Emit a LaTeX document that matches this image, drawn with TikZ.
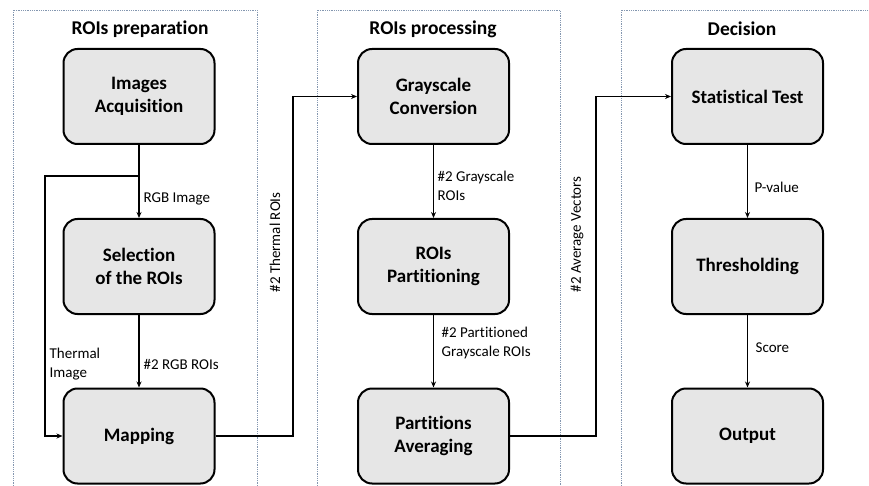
\documentclass[tikz,border=0pt]{standalone}
\usepackage{fontspec}
\setmainfont[Ligatures=NoCommon]{Carlito}
\usetikzlibrary{arrows.meta}
\definecolor{boxgray}{RGB}{230,230,230}
\definecolor{panelblue}{RGB}{132,151,176}
\tikzstyle{proc}=[shape=rectangle,
                  draw=black,
                  fill=boxgray,
                  rounded corners=14pt,
                  line width=2pt,
                  minimum width=151pt,
                  minimum height=95pt,
                  align=center,
                  font=\fontsize{19}{23}\selectfont\bfseries]
\tikzstyle{panel}=[draw=panelblue,
                   densely dotted,
                   line width=0.8pt]
\tikzstyle{ttl}=[font=\fontsize{19.5}{22}\selectfont\bfseries]
\tikzstyle{lbl}=[anchor=west,
                 inner sep=0pt,
                 align=left,
                 font=\fontsize{15}{18.5}\selectfont]

\begin{document}
\begin{tikzpicture}[x=1pt,y=-1pt,>={Stealth[length=6pt,width=5pt]},line width=1.3pt]
\useasboundingbox (0,0) rectangle (869,486);

% panels
\draw[panel] (13,486) -- (13,10) -- (257,10) -- (257,486);
\draw[panel] (317,486) -- (317,10) -- (560,10) -- (560,486);
\draw[panel] (621,486) -- (621,10) -- (875,10);

\node[ttl] (t1) at (140,29)   {ROIs preparation};
\node[ttl] (t2) at (433,29)   {ROIs processing};
\node[ttl] (t3) at (742,29)   {Decision};

% processing steps
\node[proc] (acq)  at (139,96.5)   {Images\\Acquisition};
\node[proc] (sel)  at (139,266.5)  {Selection\\of the ROIs};
\node[proc] (map)  at (139,436)    {Mapping};
\node[proc] (gray) at (433.5,96.5) {Grayscale\\Conversion};
\node[proc] (part) at (433.5,266.5){ROIs\\Partitioning};
\node[proc] (avg)  at (433.5,436)  {Partitions\\Averaging};
\node[proc] (stat) at (747.5,96.5) {Statistical Test};
\node[proc] (thr)  at (747.5,266.5){Thresholding};
\node[proc] (out)  at (747.5,436)  {Output};

% paths
\coordinate (br) at (139,176);
\draw[->] (acq) -- (sel);
\draw[->] (sel) -- (map);
\draw[->] (br) -- (45,176) |- (map.west);
\draw[->] (map.east) -- ++(77.5,0) |- (gray.west);
\draw[->] (gray) -- (part);
\draw[->] (part) -- (avg);
\draw[->] (avg.east) -- ++(86,0) |- (stat.west);
\draw[->] (stat) -- (thr);
\draw[->] (thr) -- (out);

% labels
\node[lbl] (l1) at (143,199) {RGB Image};
\node[lbl] (l2) at (143,364) {\#2 RGB ROIs};
\node[lbl] (l3) at (49,364)  {Thermal\\Image};
\node[lbl,rotate=90] (l4) at (275,293) {\#2 Thermal ROIs};
\node[lbl] (l5) at (437,186) {\#2 Grayscale\\ROIs};
\node[lbl] (l6) at (441,343) {\#2 Partitioned\\Grayscale ROIs};
\node[lbl,rotate=90] (l7) at (577,293) {\#2 Average Vectors};
\node[lbl] (l8) at (754,187) {P-value};
\node[lbl] (l9) at (755,348) {Score};

\end{tikzpicture}
\end{document}
